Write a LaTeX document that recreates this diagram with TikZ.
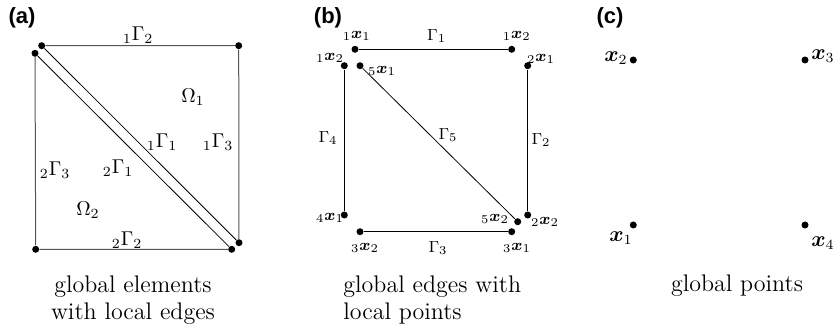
\documentclass[tikz,border=0pt]{standalone}
\usepackage{amsmath,amssymb,bm}
\usepackage{fontspec}
\newfontfamily\panelfont{Liberation Sans}
\usetikzlibrary{positioning}
\usepackage{xcolor}
\definecolor{edgegray}{RGB}{85,85,85}

\begin{document}
\begin{tikzpicture}[x=0.5pt, y=-0.5pt,
    pt/.style={circle, fill=black, inner sep=0pt, minimum size=3.5pt},
    edge/.style={edgegray, line width=0.5pt},
    diag/.style={black, line width=0.4pt},
    lab/.style={font=\fontsize{8.5}{10}\selectfont, inner sep=0pt},
    midlab/.style={font=\fontsize{10}{12}\selectfont, inner sep=0pt},
    biglab/.style={font=\fontsize{10.5}{12}\selectfont, inner sep=0pt},
    captext/.style={font=\fontsize{12}{13.5}\selectfont, inner sep=0pt},
    panel/.style={font=\panelfont\bfseries\fontsize{11}{12}\selectfont, inner sep=0pt}]
    \useasboundingbox (0,0) rectangle (834,330);

    % (a) global elements with local edges
    \node[panel] (pa) at (22,18) {(a)};
    \node[pt] (e1a) at (41.7,45.7) {};
    \node[pt] (e1b) at (238.7,45.7) {};
    \node[pt] (e1c) at (239,242.7) {};
    \node[pt] (e2a) at (35,53.3) {};
    \node[pt] (e2b) at (35.7,249.3) {};
    \node[pt] (e2c) at (231.7,249.3) {};
    \draw[edge] (e1a) -- (e1b) -- (e1c);
    \draw[diag] (e1a) -- (e1c);
    \draw[edge] (e2a) -- (e2b) -- (e2c);
    \draw[diag] (e2a) -- (e2c);
    \node[midlab] (g12) at (138,35) {${}_1\Gamma_2$};
    \node[midlab] (om1) at (193,97) {$\Omega_1$};
    \node[midlab] (g11) at (162,142) {${}_1\Gamma_1$};
    \node[midlab] (g13) at (218,142) {${}_1\Gamma_3$};
    \node[midlab] (g23) at (55,170) {${}_2\Gamma_3$};
    \node[midlab] (g21) at (118,168) {${}_2\Gamma_1$};
    \node[midlab] (om2) at (88,210) {$\Omega_2$};
    \node[midlab] (g22) at (127,240) {${}_2\Gamma_2$};
    \node[captext, align=center] (capa) at (133,300) {global elements\\with local edges};

    % (b) global edges with local points
    \node[panel] (pb) at (328,18) {(b)};
    \node[pt] (b11) at (355,49.3) {};
    \node[pt] (b12) at (511.7,49.3) {};
    \node[pt] (b21) at (527.7,65.7) {};
    \node[pt] (b22) at (527.7,215) {};
    \node[pt] (b31) at (511.7,231.7) {};
    \node[pt] (b32) at (360,231.7) {};
    \node[pt] (b42) at (344.3,65.7) {};
    \node[pt] (b41) at (344.3,215) {};
    \node[pt] (b51) at (360,65.7) {};
    \node[pt] (b52) at (517.7,221.7) {};
    \draw[diag] (b11) -- (b12);
    \draw[diag] (b21) -- (b22);
    \draw[diag] (b31) -- (b32);
    \draw[diag] (b41) -- (b42);
    \draw[diag] (b51) -- (b52);
    \node[lab] (lb11) at (356.7,36) {${}_1\bm{x}_1$};
    \node[lab] (lg1) at (436.7,36) {$\Gamma_1$};
    \node[lab] (lb12) at (516.7,36) {${}_1\bm{x}_2$};
    \node[lab] (lb42) at (330,58) {${}_1\bm{x}_2$};
    \node[lab] (lb51) at (382,71) {${}_5\bm{x}_1$};
    \node[lab] (lb21) at (541,59) {${}_2\bm{x}_1$};
    \node[lab] (lg4) at (328,138) {$\Gamma_4$};
    \node[lab] (lg5) at (448,135) {$\Gamma_5$};
    \node[lab] (lg2) at (541,140) {$\Gamma_2$};
    \node[lab] (lb41) at (330,218) {${}_4\bm{x}_1$};
    \node[lab] (lb52) at (495,219) {${}_5\bm{x}_2$};
    \node[lab] (lb22) at (545,222) {${}_2\bm{x}_2$};
    \node[lab] (lb32) at (365,248) {${}_3\bm{x}_2$};
    \node[lab] (lg3) at (438,248) {$\Gamma_3$};
    \node[lab] (lb31) at (517,248) {${}_3\bm{x}_1$};
    \node[captext, align=left, anchor=west] (capb) at (343,300) {global edges with\\local points};

    % (c) global points
    \node[panel] (pc) at (610,18) {(c)};
    \node[pt] (c1) at (633.3,225) {};
    \node[pt] (c2) at (633.3,60) {};
    \node[pt] (c3) at (805,60) {};
    \node[pt] (c4) at (805,225) {};
    \node[biglab] (lc1) at (621,238) {$\bm{x}_1$};
    \node[biglab] (lc2) at (616,58) {$\bm{x}_2$};
    \node[biglab] (lc3) at (823,56) {$\bm{x}_3$};
    \node[biglab] (lc4) at (823,243) {$\bm{x}_4$};
    \node[captext] (capc) at (737,286) {global points};
\end{tikzpicture}
\end{document}
